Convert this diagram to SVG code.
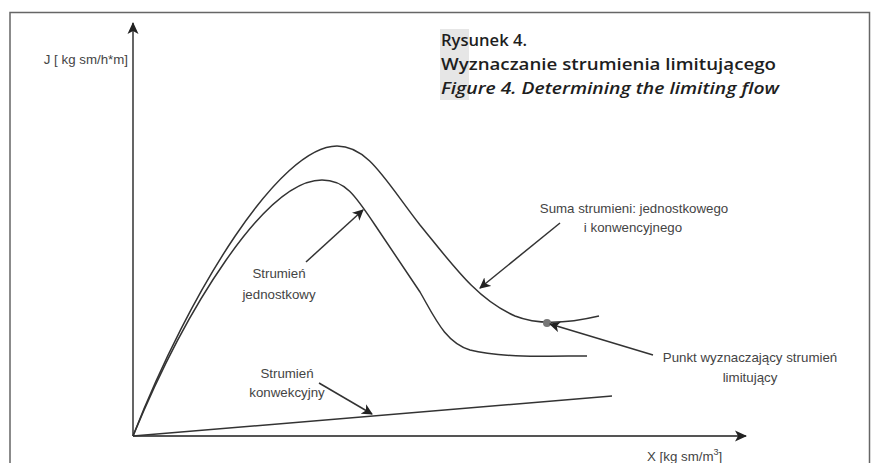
<svg xmlns="http://www.w3.org/2000/svg" width="874" height="463" viewBox="0 0 874 463">
<style>
.lbl{font-family:"Liberation Sans",Arial,sans-serif;font-size:13.3px;fill:#444}
.ttl{font-family:"Open Sans","Liberation Sans",sans-serif;font-size:17px;fill:#1e1e1e;font-weight:600}
.curve{fill:none;stroke:#333;stroke-width:1.5}
.lead{fill:none;stroke:#333;stroke-width:1.5}
.axis{fill:none;stroke:#555;stroke-width:1.8}
</style>
<defs>
<marker id="ah" markerWidth="11" markerHeight="11" refX="10" refY="5.5" orient="auto" markerUnits="userSpaceOnUse" viewBox="0 0 11 11">
<path d="M0,0 L11,5.5 L0,11 L3,5.5 Z" fill="#222"/>
</marker>
<marker id="axh" markerWidth="12" markerHeight="12" refX="11" refY="6" orient="auto" markerUnits="userSpaceOnUse" viewBox="0 0 12 12">
<path d="M0,0.5 L12,6 L0,11.5 L3,6 Z" fill="#222"/>
</marker>
</defs>
<rect x="0" y="0" width="874" height="463" fill="#fff"/>
<rect id="frame" x="10" y="12.5" width="859.5" height="470" fill="none" stroke="#666" stroke-width="1.5"/>
<g id="title">
<rect x="440" y="29" width="29" height="71" fill="#e6e6e6"/>
<text class="ttl" x="441" y="46" textLength="86" lengthAdjust="spacingAndGlyphs">Rysunek 4.</text>
<text class="ttl" x="441" y="70" textLength="335" lengthAdjust="spacingAndGlyphs">Wyznaczanie strumienia limitującego</text>
<text class="ttl" x="441" y="94" font-style="italic" textLength="338" lengthAdjust="spacingAndGlyphs">Figure 4. Determining the limiting flow</text>
</g>
<g id="axes">
<line class="axis" x1="133" y1="436" x2="133" y2="23" marker-end="url(#axh)"/>
<line class="axis" x1="133" y1="436" x2="746" y2="436" marker-end="url(#axh)"/>
<text class="lbl" x="128" y="64" text-anchor="end">J [ kg sm/h*m]</text>
<text class="lbl" x="647" y="461">X [kg sm/m<tspan font-size="9" dy="-6">3</tspan><tspan dy="6">]</tspan></text>
</g>
<g id="curves">
<path id="sum" class="curve" d="M133,436 C190,290 280,146 337,146 C368,146 385,180 420,225 C455,268 478,300 515,316 C535,324 565,324 599,316"/>
<path id="unit" class="curve" d="M133,436 C185,310 265,180 322,180 C345,180 355,195 375,225 L420,292 C435,318 445,342 470,350 C500,358 550,356 587,356"/>
<path id="conv" class="curve" d="M133,436 L612,396"/>
<circle id="point" cx="547" cy="323" r="4" fill="#777"/>
</g>
<g id="connectors">
<line class="lead" x1="306" y1="262" x2="363" y2="210" marker-end="url(#ah)"/>
<line class="lead" x1="560" y1="223" x2="480" y2="288" marker-end="url(#ah)"/>
<line class="lead" x1="653" y1="355" x2="550" y2="324" marker-end="url(#ah)"/>
<line class="lead" x1="319" y1="383" x2="372" y2="414" marker-end="url(#ah)"/>
</g>
<g id="labels">
<text class="lbl" text-anchor="middle"><tspan x="279" y="278">Strumień</tspan><tspan x="279" y="299">jednostkowy</tspan></text>
<text class="lbl" text-anchor="middle"><tspan x="634" y="213">Suma strumieni: jednostkowego</tspan><tspan x="633" y="232">i konwencyjnego</tspan></text>
<text class="lbl" text-anchor="middle"><tspan x="750" y="362">Punkt wyznaczający strumień</tspan><tspan x="750" y="382">limitujący</tspan></text>
<text class="lbl" text-anchor="middle"><tspan x="287" y="378">Strumień</tspan><tspan x="287" y="397">konwekcyjny</tspan></text>
</g>
</svg>
